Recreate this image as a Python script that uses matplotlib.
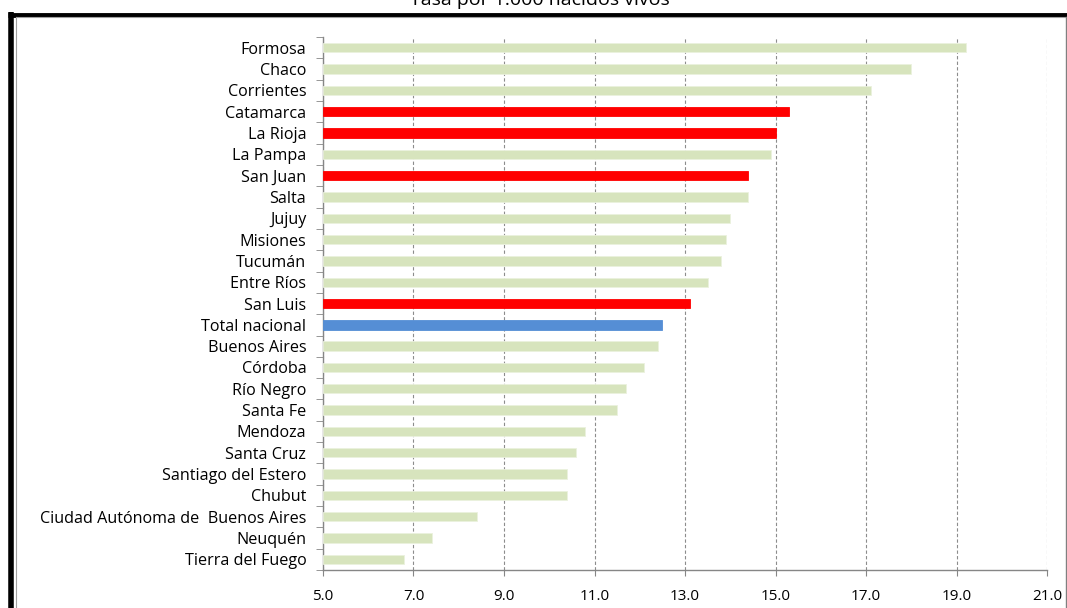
import numpy as np
import matplotlib.pyplot as plt
from matplotlib.lines import Line2D

plt.rcParams['font.family'] = ['Open Sans', 'DejaVu Sans']

provincias = ['Formosa', 'Chaco', 'Corrientes', 'Catamarca', 'La Rioja', 'La Pampa',
              'San Juan', 'Salta', 'Jujuy', 'Misiones', 'Tucumán', 'Entre Ríos',
              'San Luis', 'Total nacional', 'Buenos Aires', 'Córdoba', 'Río Negro',
              'Santa Fe', 'Mendoza', 'Santa Cruz', 'Santiago del Estero', 'Chubut',
              'Ciudad Autónoma de  Buenos Aires', 'Neuquén', 'Tierra del Fuego']
tasas = [19.2, 18.0, 17.1, 15.3, 15.0, 14.9,
         14.4, 14.4, 14.0, 13.9, 13.8, 13.5,
         13.1, 12.5, 12.4, 12.1, 11.7,
         11.5, 10.8, 10.6, 10.4, 10.4,
         8.4, 7.4, 6.8]
resaltadas = ['Catamarca', 'La Rioja', 'San Juan', 'San Luis']
total = 'Total nacional'
xticks = [5.0, 7.0, 9.0, 11.0, 13.0, 15.0, 17.0, 19.0, 21.0]

colores = []
for p in provincias:
    if p in resaltadas:
        colores.append('#FF0000')
    elif p == total:
        colores.append('#558ED5')
    else:
        colores.append('#D7E4BD')

fig = plt.figure(figsize=(10.67, 6.08), dpi=100)
ax = fig.add_axes([0.3027, 0.0625, 0.9813 - 0.3027, 0.939 - 0.0625])

y = np.arange(len(provincias))
base = 5.0
ax.barh(y, np.array(tasas) - base, left=base, height=0.44, color=colores,
        edgecolor=['#EBF1DE' if c == '#D7E4BD' else c for c in colores], linewidth=0.6,
        zorder=3)

ax.set_xlim(5, 21)
ax.set_ylim(len(provincias) - 0.5, -0.5)
ax.set_xticks(xticks)
ax.set_xticklabels(['%.1f' % v for v in xticks], fontsize=11)
ax.set_yticks(y)
ax.set_yticklabels(provincias, fontsize=11.6)
ax.set_yticks(np.arange(len(provincias) + 1) - 0.5, minor=True)
ax.tick_params(axis='y', which='major', length=0, pad=12)
ax.tick_params(axis='y', which='minor', length=5, color='#868686', direction='out')
ax.tick_params(axis='x', length=4, color='#868686', pad=10)

ax.grid(axis='x', linestyle=(0, (3, 2)), color='#8C8C8C', linewidth=0.8, zorder=0)
for s in ['top', 'right']:
    ax.spines[s].set_visible(False)
for s in ['left', 'bottom']:
    ax.spines[s].set_color('#868686')
    ax.spines[s].set_linewidth(1.0)

fig.text(0.506, 603 / 608, 'Tasa por 1.000 nacidos vivos', ha='center', va='baseline',
         fontsize=14)

# marco del grafico
W, H = 1067, 608
fig.add_artist(Line2D([10.5 / W, 10.5 / W], [0, 1 - 12 / H], color='black', linewidth=4,
                      transform=fig.transFigure, solid_capstyle='butt'))
fig.add_artist(Line2D([8 / W, 1], [1 - 14.5 / H, 1 - 14.5 / H], color='black', linewidth=3.5,
                      transform=fig.transFigure, solid_capstyle='butt'))
fig.add_artist(Line2D([15.5 / W, 15.5 / W], [0, 1 - 17 / H], color='#A0A0A0', linewidth=0.8,
                      transform=fig.transFigure))
fig.add_artist(Line2D([15.5 / W, 1], [1 - 17 / H, 1 - 17 / H], color='#A0A0A0', linewidth=0.8,
                      transform=fig.transFigure))
fig.add_artist(Line2D([1065.5 / W, 1065.5 / W], [0, 1 - 17 / H], color='#808080', linewidth=1,
                      transform=fig.transFigure))

fig.savefig('out.png', dpi=100)
